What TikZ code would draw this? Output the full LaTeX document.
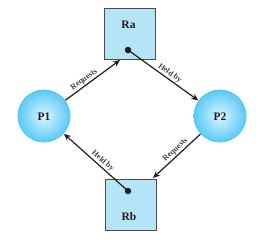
\documentclass[tikz,border=0pt]{standalone}
\usepackage{fontspec}
\setmainfont{Liberation Serif}
\usetikzlibrary{arrows.meta}
\definecolor{boxfill}{RGB}{182,228,247}
\definecolor{ballin}{RGB}{218,247,255}
\definecolor{ballout}{RGB}{88,200,244}
\definecolor{ink}{RGB}{30,30,30}
\tikzset{
  resbox/.style={draw=ink!80, line width=0.8pt, fill=boxfill, minimum size=51pt, inner sep=0pt},
  proc/.style={circle, minimum size=53pt, inner sep=0pt, shading=radial, inner color=ballin, outer color=ballout},
  edge/.style={line width=1.2pt, ink, -{Stealth[length=7pt,width=6pt]}},
  lbl/.style={font=\bfseries\fontsize{8}{9}\selectfont, text=ink!85, sloped, above, inner sep=1.2pt},
  big/.style={font=\bfseries\fontsize{11.5}{12}\selectfont, text=ink},
  dotc/.style={circle, fill=ink, minimum size=6.5pt, inner sep=0pt}
}
\begin{document}
\begin{tikzpicture}[x=1pt,y=-1pt]
\useasboundingbox (0,0) rectangle (268,250);
\node[resbox] (Ra) at (130,33.5) {};
\node[resbox] (Rb) at (131,204.5) {};
\node[proc] (P1) at (44,116) {};
\node[proc] (P2) at (220,116) {};
\node[big] (RaT) at (128.5,25) {Ra};
\node[big] (RbT) at (129,217) {Rb};
\node[big] (P1T) at (44,117) {P1};
\node[big] (P2T) at (220,117) {P2};
\node[dotc] (Rad) at (128,50) {};
\node[dotc] (Rbd) at (128,191) {};
\coordinate (Rain) at (120,60);
\coordinate (Rbin) at (153,178);
\draw[edge] (P1) -- node[lbl, pos=0.4] {Requests} (Rain);
\draw[edge] (Rad.center) -- node[lbl, pos=0.55] {Held by} (P2);
\draw[edge] (P2) -- node[lbl, pos=0.45] {Requests} (Rbin);
\draw[edge] (Rbd.center) -- node[lbl, pos=0.45] {Held by} (P1);
\end{tikzpicture}
\end{document}
